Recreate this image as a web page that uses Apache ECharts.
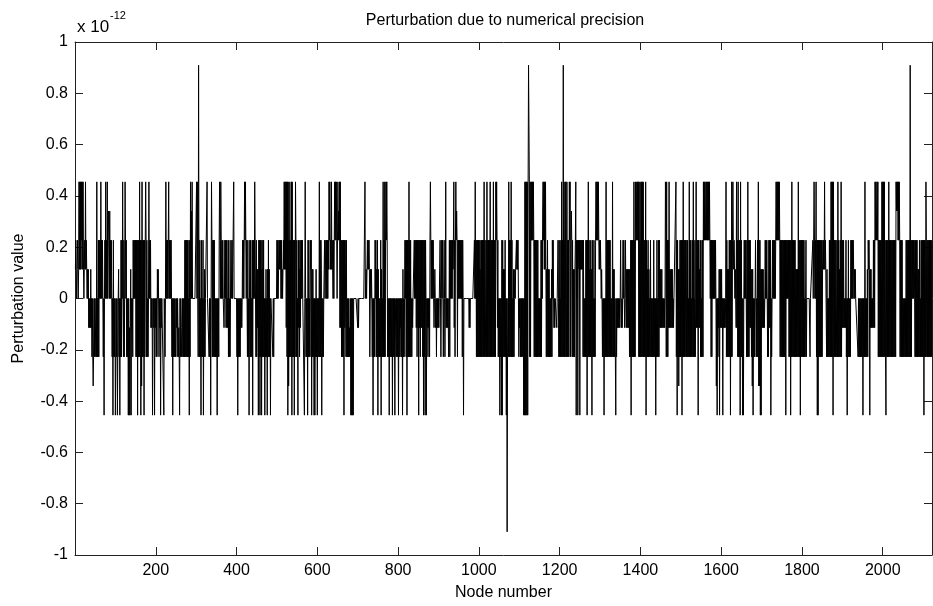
<!DOCTYPE html>
<html><head><meta charset="utf-8">
<script src="https://cdn.jsdelivr.net/npm/echarts@6/dist/echarts.min.js"></script>
<style>html,body{margin:0;padding:0;background:#fff}#c{width:933px;height:606px}</style>
</head><body><div id="c"></div>
<script>
// Perturbation levels per node, as multiples of the quantum 2^-43.
// Codes: '0'..'8' positive multiples, a=-1, b=-2, c=-3, d=-4, h=-8. Spaces are ignored.
const levelCodeValues = {'0':0,'1':1,'2':2,'3':3,'4':4,'6':6,'8':8,'a':-1,'b':-2,'c':-3,'d':-4,'h':-8};
const quantumE12 = 0.11368683772161603; // 2^-43 expressed in units of 1e-12

const perturbationCodes = [
"12101 21014 14141 42414 10121","41210 101a0 a0a1a 0b0bc b0b0b","b0b4b 0b2b2 02040 2020b 0d020",
"40204 02320 30202 0b0d2 b0b0d","b0b0d b01b0 d0b2b 2040b 2b04","202b0 b0d0d ada1d 0a0b2 02020",
"2b2b2 d2b2b 4b2d2 c4b2b 2d2b2","42b2b 0b040 202a0 a0da0 a0d0a","0b0b1 010b0 a0d0a 00000 d00b",
"04020 20240 20202 0b0d0 b0b00","b0a0b 0abab d0b0a ba0b0 b0b2b","2b2b2 b2b0d 2b403 04000 00000",
"00404 0b80b 2b0d2 b0b2d 0b1b0","00040 000b0 b0d04 2b2b2 b2b0","b0b0d 0b0b2 42042 02020 0a020",
"2a2a0 a2b2b 0b020 02000 40000","000b0 d0b0b 0b0a0 a0202 02424","2020b 2b0d0 2b2b0 b2d20 2042",
"2b2b1 a1d2b 2d2b2 d1b2b 2b0d0","b1b0d 1b2b1 b0d00 000b0 b0000","00020 20121 21202 01012 14141",
"4a4b4 d4c2b 4b2b4 d4b2b 2d2b4","2b2b0 d2a2b 1a202 02000 0d04","0b0b0 d2b2b 0b212 d1b1b 0d0d0",
"b1b0d 0b0b4 b2b21 d0b0b 01200","20202 02142 41214 12202 02424","24202 42324 a4a2b 2b2b2 d2a2",
"2b2b0 b0b0b ab0d0 d0d0d 00000","00000 a0a00 00000 00000 00040","01012 12121 b0101 0b0d0 b0b20",
"2b1b2 d1b0b 0b2d1 b0b4b 2b4b2","4242b 0b0d0 b0b0b 0d0b0 b0d0","0b0b0 b0d0b 0a0b0 b0d1b 0b020",
"2b2d2 b2b4b 2b2b0 b0a00 02020","2a2b2 a2d2a 2b2a2 a2b2d 2b2d2","0d0a0 b0a0b 24202 02020 a010",
"a0b0a 0a0a0 020b0 2020b 020b0","4a0a0 a0ba2 b2020 20212 4a2b2","4232b 20202 02020 2b20d 00000",
"00000 000a0 a0000 00000 02040","2b2b2 b2b2b 1b2b2 b2b2b 4b2b","b2b4b 2b2b2 b4b2b 2b2b4 b2b2b",
"4242a 2b0b0 d0b0d 2d2b1 b1b2b","0d0hb 0b4b2 b2b4b 2b0b1 b0101","12121 20b0a 0b0b0 b0b0d 0d4d",
"4d4d4 d4864 b4b42 42424 2b2b2","b2b2b 2b0b0 b0b2b 20342 41414","1b1b2 b1b1b 0b0b1 b2020 a0a00",
"00a00 20b2b 0b2b4 b2b8b 2b4b4","4b4b2 b2b42 4b232 b2b1b 1b12","4d202 d1212 d2121 212b2 b0b0b",
"2b2d2 b4b2b 1b2b1 d2b0b 2b0b2","42424 24212 12101 0b0b0 d0b0b","4b2b2 b2b2b 2b0b0 b4b1b 1b0b",
"d0b0a 0a0a0 a020a 0a020 20a02","0a1a1 a1a1b 1b2d2 b2b2b 4b2b4","42424 24b4b 2b4b4 b4b4b 2b2b4",
"d2b1b 2b1b0 b2b0b 0b0b2 b0b0d","0b2b0 b2b2a 1a1a1 a0a0a 0a04","2b4b2 b2a4a 1a1a1 a1a0a 00000",
"4b2d2 b1c1b 2b2b2 d2b4b 2b2b2","2b2b2 b0b4b 2b2b0 b2b4b 0b2b0","4a2a2 d2a1a 2b2b0 b2b42 4242",
"24242 42424 202b2 b2020 20202","0c0d0 b0a1d 1a1a1 a0d0a 0a0a0","4b2b1 b1b2b 2d2b4 b2421 21010",
"a4a2b 4b2b2 d4b2b 0d0d0 20202","2b2b4 b2b2a 2a1b1 c1d0b 0b02","2b0b2 b4c2c 2d1d1 a1a1a 0a020",
"2020b 0b2a2 a2d0b 02020 20202","42424 24242 b2b2b 2b2b2 b2b2d","20202 02b2b 2d2b4 b2b2b 2b2b",
"1b1b1 b4b2b 2d2b2 b2b2b 2b0b0","2b000 00000 b0000 00202 42020","4b2d2 d2b2b 2b2b2 b1212 14121",
"1b1b0 b0b2b 2b4b4 b4d4b 2b2b2","2b2b4 b2b1b 2b4b2 a2a2a 0a0a","2b0d0 b2b0b 0b202 02021 01010",
"00000 b0b0b 0b0b0 b0d0b 0b4b0","b0b1b 2121d 1a1a0 a0a2a 2a424","42424 b2b2b 2b2b4 b4b4b 4b2b",
"d2b2b 2b4b2 b2b2b 2b2b2 b2b2b","43434 24242 b2b2b 2b0b0 b0b0b","2b2b2 b2b2b 8b2b2 02020 20b2b",
"2b2b1 b1b2b 0b2b2 b2b2d 2b2b4","2b2b2 b2b2b 2b2b2"
];

const xTickValues = [200, 400, 600, 800, 1000, 1200, 1400, 1600, 1800, 2000];
const yTickValues = [-1, -0.8, -0.6, -0.4, -0.2, 0, 0.2, 0.4, 0.6, 0.8, 1];
const nodeCountMax = 2122;

const chartTitle = 'Perturbation due to numerical precision';
const xAxisTitle = 'Node number';
const yAxisTitle = 'Perturbation value';

const codes = perturbationCodes.join('').replace(/\s+/g, '');
const seriesData = [];
for (let i = 0; i < codes.length; i++) {
  seriesData.push([i + 1, levelCodeValues[codes[i]] * quantumE12]);
}

const FONT = "'Liberation Sans', Arial, sans-serif";
const AX = '#222';
const chart = echarts.init(document.getElementById('c'), null, {renderer: 'canvas'});
const tickCommon = {show: true, inside: true, length: 8, lineStyle: {color: AX, width: 1}};
chart.setOption({
  animation: false,
  backgroundColor: '#fff',
  grid: {left: 75, right: 1, top: 42, bottom: 49, containLabel: false},
  graphic: [
    {type: 'text', x: 505, y: 21, style: {text: chartTitle, font: '16px ' + FONT, fill: '#000', textAlign: 'center', textVerticalAlign: 'middle'}},
    {type: 'text', x: 77, y: 27, style: {text: 'x 10', font: '17px ' + FONT, fill: '#000', textVerticalAlign: 'middle'}},
    {type: 'text', x: 110, y: 16, style: {text: '-12', font: '11px ' + FONT, fill: '#000', textVerticalAlign: 'middle'}}
  ],
  xAxis: [{
    type: 'value', min: 0, max: nodeCountMax, interval: 200, position: 'bottom',
    name: xAxisTitle, nameLocation: 'middle', nameGap: 30,
    nameTextStyle: {fontFamily: FONT, fontSize: 16, color: '#000'},
    axisLine: {show: true, onZero: false, lineStyle: {color: AX, width: 1}},
    axisTick: tickCommon,
    axisLabel: {show: true, margin: 8, fontFamily: FONT, fontSize: 16, color: '#000',
      showMinLabel: false, showMaxLabel: false,
      formatter: v => (xTickValues.indexOf(v) >= 0 ? String(v) : '')},
    splitLine: {show: false}
  }, {
    type: 'value', min: 0, max: nodeCountMax, interval: 200, position: 'top',
    axisLine: {show: true, onZero: false, lineStyle: {color: AX, width: 1}},
    axisTick: tickCommon, axisLabel: {show: false}, splitLine: {show: false}
  }],
  yAxis: [{
    type: 'value', min: -1, max: 1, interval: 0.2, position: 'left',
    name: yAxisTitle, nameLocation: 'middle', nameGap: 48, nameRotate: 90,
    nameTextStyle: {fontFamily: FONT, fontSize: 16, color: '#000'},
    axisLine: {show: true, onZero: false, lineStyle: {color: AX, width: 1}},
    axisTick: tickCommon,
    axisLabel: {show: true, margin: 7, fontFamily: FONT, fontSize: 16, color: '#000',
      formatter: v => String(Math.round(v * 10) / 10)},
    splitLine: {show: false}
  }, {
    type: 'value', min: -1, max: 1, interval: 0.2, position: 'right',
    axisLine: {show: true, onZero: false, lineStyle: {color: AX, width: 1}},
    axisTick: tickCommon, axisLabel: {show: false}, splitLine: {show: false}
  }],
  series: [{
    type: 'line', xAxisIndex: 0, yAxisIndex: 0, data: seriesData,
    showSymbol: false, symbol: 'none', sampling: null,
    lineStyle: {color: '#000', width: 1}, silent: true
  }]
});
</script></body></html>
